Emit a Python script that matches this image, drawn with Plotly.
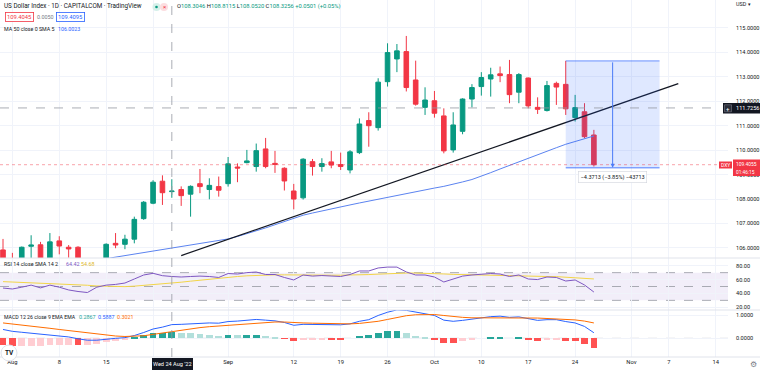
import numpy as np
import pandas as pd
import plotly.graph_objects as go
from plotly.subplots import make_subplots

# ---------------- DATA ----------------
dates = [d.strftime("%Y-%m-%d") for d in pd.bdate_range("2022-07-29", "2022-10-26")]

opens = [105.92, 105.55, 105.35, 106.07, 106.13, 105.50, 106.29, 106.03, 106.03, 105.20,
         105.05, 105.50, 106.19, 106.15, 106.36, 107.20, 107.83, 108.73, 108.3046, 108.39,
         108.20, 108.63, 108.39, 108.51, 108.63, 109.31, 109.49, 109.33, 110.05, 109.46,
         109.26, 108.33, 108.05, 109.53, 109.33, 109.52, 109.41, 109.19, 109.90, 111.21,
         110.92, 112.80, 113.73, 114.03, 112.87, 111.75, 112.02, 111.40, 110.01, 110.77,
         112.09, 112.60, 112.91, 113.12, 113.09, 112.37, 112.95, 111.75, 111.62, 112.73,
         112.69, 111.33, 111.57, 110.62]
highs = [106.37, 105.80, 106.06, 106.52, 106.25, 106.61, 106.48, 106.12, 106.07, 105.50,
         105.55, 106.19, 106.61, 106.54, 107.28, 107.92, 108.77, 108.97, 108.8115, 108.52,
         108.56, 109.23, 108.85, 108.92, 109.72, 109.46, 110.01, 110.27, 110.50, 109.97,
         109.30, 108.62, 109.67, 109.64, 109.67, 109.97, 109.90, 110.00, 111.30, 111.55,
         112.94, 114.37, 114.34, 114.67, 113.66, 112.57, 112.42, 111.71, 111.55, 112.12,
         112.70, 113.19, 113.37, 113.42, 113.69, 113.15, 112.97, 112.16, 112.83, 112.80,
         113.65, 112.26, 111.92, 110.83]
lows = [105.30, 105.05, 105.20, 105.55, 105.40, 105.35, 105.74, 105.60, 104.90, 104.65,
        104.85, 105.30, 105.99, 105.95, 106.19, 107.15, 107.79, 107.76, 108.0520, 107.72,
        107.28, 108.24, 107.99, 108.10, 108.51, 108.69, 109.46, 109.12, 109.26, 109.07,
        108.35, 107.58, 107.98, 108.96, 109.12, 109.26, 109.19, 109.05, 109.84, 110.14,
        110.80, 112.60, 113.19, 112.40, 111.82, 111.44, 111.33, 109.87, 109.90, 110.65,
        111.75, 112.23, 112.19, 112.78, 111.92, 111.92, 111.71, 111.48, 111.58, 111.85,
        111.44, 111.17, 110.49, 109.33]
closes = [105.45, 105.40, 106.03, 106.12, 105.50, 106.25, 106.08, 105.96, 105.20, 105.05,
          105.50, 106.15, 106.12, 106.36, 107.17, 107.87, 108.69, 108.26, 108.3256, 108.14,
          108.52, 108.51, 108.56, 108.36, 109.44, 109.27, 109.56, 109.98, 109.33, 109.42,
          108.74, 108.00, 109.63, 109.33, 109.45, 109.39, 109.33, 109.93, 111.07, 111.00,
          112.78, 113.99, 114.06, 112.56, 111.88, 112.05, 111.51, 109.97, 111.03, 112.09,
          112.56, 112.97, 113.08, 113.05, 112.27, 113.09, 111.81, 111.67, 112.64, 112.58,
          111.69, 111.74, 110.55, 109.4055]
ma50 = [104.95, 105.00, 105.05, 105.10, 105.15, 105.20, 105.26, 105.32, 105.38, 105.44,
        105.50, 105.56, 105.62, 105.68, 105.75, 105.82, 105.88, 105.94, 106.0023, 106.06,
        106.12, 106.18, 106.24, 106.30, 106.37, 106.47, 106.58, 106.70, 106.82, 106.95,
        107.08, 107.21, 107.34, 107.43, 107.52, 107.60, 107.68, 107.76, 107.84, 107.92,
        108.00, 108.08, 108.16, 108.24, 108.31, 108.38, 108.45, 108.52, 108.60, 108.70,
        108.80, 108.93, 109.08, 109.23, 109.38, 109.53, 109.68, 109.82, 109.96, 110.10,
        110.24, 110.36, 110.48, 110.58]
rsi = [47.8, 46.4, 49.0, 52.0, 48.0, 52.0, 49.0, 45.0, 42.8, 41.3,
       49.0, 52.0, 53.0, 55.0, 60.8, 66.6, 69.0, 65.6, 64.42, 63.7,
       64.4, 65.0, 64.4, 63.0, 68.7, 68.0, 70.0, 70.9, 67.3, 67.3,
       63.0, 59.4, 66.6, 65.0, 65.8, 65.0, 64.4, 67.3, 72.4, 72.4,
       76.7, 78.0, 78.0, 71.0, 66.6, 66.6, 63.7, 56.5, 60.8, 65.0,
       66.6, 68.0, 68.7, 68.0, 64.4, 66.6, 60.8, 60.0, 63.7, 63.0,
       57.9, 59.4, 52.2, 42.0]
rsi_ma = [57.0, 56.5, 56.0, 55.5, 55.0, 54.5, 54.0, 53.3, 52.6, 51.8,
          50.8, 50.2, 49.8, 49.8, 50.5, 51.5, 52.6, 53.6, 54.68, 56.2,
          57.7, 59.2, 60.6, 62.0, 63.3, 64.4, 65.4, 66.2, 66.6, 66.8,
          66.8, 66.5, 66.4, 66.4, 66.4, 66.3, 66.3, 66.4, 66.8, 67.2,
          67.8, 68.5, 69.2, 69.4, 69.4, 69.2, 68.8, 68.1, 67.5, 67.1,
          66.8, 66.5, 66.2, 66.0, 65.6, 65.4, 65.0, 64.6, 64.4, 64.2,
          63.6, 63.1, 62.2, 60.9]
macd = [0.38, 0.30, 0.26, 0.22, 0.16, 0.14, 0.10, 0.06, -0.02, -0.08,
        -0.08, -0.03, 0.00, 0.03, 0.12, 0.25, 0.40, 0.48, 0.5887, 0.60,
        0.63, 0.65, 0.66, 0.65, 0.72, 0.74, 0.77, 0.81, 0.78, 0.75,
        0.68, 0.56, 0.60, 0.60, 0.61, 0.60, 0.58, 0.62, 0.73, 0.80,
        0.98, 1.12, 1.22, 1.20, 1.13, 1.07, 0.98, 0.78, 0.73, 0.77,
        0.83, 0.88, 0.93, 0.95, 0.90, 0.92, 0.84, 0.77, 0.80, 0.80,
        0.72, 0.66, 0.51, 0.24]
signal = [0.66, 0.62, 0.58, 0.53, 0.47, 0.43, 0.38, 0.33, 0.28, 0.22,
          0.17, 0.13, 0.10, 0.08, 0.08, 0.11, 0.17, 0.23, 0.3021, 0.36,
          0.42, 0.46, 0.50, 0.53, 0.57, 0.60, 0.63, 0.67, 0.69, 0.70,
          0.70, 0.67, 0.66, 0.65, 0.64, 0.63, 0.62, 0.62, 0.64, 0.67,
          0.73, 0.81, 0.90, 0.97, 1.01, 1.03, 1.02, 0.98, 0.93, 0.90,
          0.88, 0.88, 0.89, 0.90, 0.90, 0.90, 0.89, 0.87, 0.85, 0.84,
          0.82, 0.79, 0.74, 0.66]

tick_dates = ["2022-08-01", "2022-08-08", "2022-08-15", "2022-08-22", "2022-09-01", "2022-09-12",
              "2022-09-19", "2022-09-26", "2022-10-03", "2022-10-10", "2022-10-17", "2022-10-24",
              "2022-11-01", "2022-11-07", "2022-11-14"]
# the "22" tick sits under the crosshair date label, so its text is hidden
tick_text = ["Aug", "8", "15", "", "Sep", "12", "19", "26", "Oct", "10", "17", "24", "Nov", "7", "14"]

price_ticks = [106, 107, 108, 109, 110, 111, 112, 113, 114, 115]
rsi_ticks = [20, 40, 60, 80]
macd_ticks = [0, 1]

trend_dates = ["2022-08-25", "2022-11-08"]
trend_prices = [105.69, 112.72]

measure_dates = ["2022-10-21", "2022-11-04"]
measure_mid_date = "2022-10-28"
measure_top = 113.65
measure_bottom = 109.2787
measure_text = "\u22124.3713 (\u22123.85%) \u221243713"

cross_date = "2022-08-24"
cross_price = 111.7256
last_price = 109.4055

# ---------------- helpers ----------------
calendar = [d.strftime("%Y-%m-%d") for d in pd.bdate_range("2022-07-29", "2022-12-30")]
pos = {d: i for i, d in enumerate(calendar)}
x = [pos[d] for d in dates]
tick_x = [pos[d] for d in tick_dates]

W, H = 760, 370
ML, MR, MT, MB = 0, 32, 0, 13
PW, PH = W - ML - MR, H - MT - MB


def px(v):
    return (v - ML) / PW


def py(v):
    return 1 - (v - MT) / PH


GREEN = "#089981"
RED = "#F23645"
TXT = "#131722"
FONT = "Roboto"
GRID = "#F0F3FA"

fig = make_subplots(rows=3, cols=1, shared_xaxes=True, vertical_spacing=0)

fig.add_trace(go.Candlestick(
    x=x, open=opens, high=highs, low=lows, close=closes,
    increasing=dict(line=dict(color=GREEN, width=1), fillcolor=GREEN),
    decreasing=dict(line=dict(color=RED, width=1), fillcolor=RED),
    whiskerwidth=0, hoverinfo="skip"), row=1, col=1)

fig.add_trace(go.Scatter(x=x, y=ma50, mode="lines", line=dict(color="#5B83F0", width=1),
                         hoverinfo="skip"), row=1, col=1)

fig.add_trace(go.Scatter(x=[pos[d] for d in trend_dates], y=trend_prices, mode="lines",
                         line=dict(color="#131722", width=1.3), hoverinfo="skip"), row=1, col=1)

# RSI
fig.add_trace(go.Scatter(x=x, y=rsi_ma, mode="lines", line=dict(color="#F2D548", width=1),
                         hoverinfo="skip"), row=2, col=1)
fig.add_trace(go.Scatter(x=x, y=rsi, mode="lines", line=dict(color="#7E57C2", width=1),
                         hoverinfo="skip"), row=2, col=1)

# MACD
hist = np.array(macd) - np.array(signal)
hcolors = []
for i, h in enumerate(hist):
    prev = hist[i - 1] if i > 0 else h + (0.01 if h < 0 else -0.01)
    if h >= 0:
        hcolors.append("#26A69A" if h >= prev else "#B2DFDB")
    else:
        hcolors.append("#FF5252" if h <= prev else "#FFCDD2")
fig.add_trace(go.Bar(x=x, y=hist, marker=dict(color=hcolors, line=dict(width=0)), width=0.72,
                     hoverinfo="skip"), row=3, col=1)
fig.add_trace(go.Scatter(x=x, y=macd, mode="lines", line=dict(color="#2962FF", width=1),
                         hoverinfo="skip"), row=3, col=1)
fig.add_trace(go.Scatter(x=x, y=signal, mode="lines", line=dict(color="#FF6D00", width=1),
                         hoverinfo="skip"), row=3, col=1)

xrange = [-0.32, 77.3]
for r in (1, 2, 3):
    fig.update_xaxes(row=r, col=1, range=xrange, tickmode="array", tickvals=tick_x,
                     ticktext=tick_text, showgrid=True, gridcolor=GRID, gridwidth=1,
                     zeroline=False, showline=False, ticks="",
                     showticklabels=(r == 3), tickfont=dict(size=5.8, color=TXT, family=FONT))
fig.update_layout(xaxis_rangeslider_visible=False)

fig.update_yaxes(row=1, col=1, range=[105.59, 116.14], side="right", tickmode="array",
                 tickvals=price_ticks, ticktext=["%.4f" % v for v in price_ticks],
                 showgrid=True, gridcolor=GRID, zeroline=False, ticks="", ticklabelstandoff=7,
                 tickfont=dict(size=5.6, color=TXT, family=FONT), domain=[py(258), 1])
fig.update_yaxes(row=2, col=1, range=[16.1, 91.1], side="right", tickmode="array",
                 tickvals=rsi_ticks, ticktext=["%.2f" % v for v in rsi_ticks],
                 showgrid=True, gridcolor=GRID, zeroline=False, ticks="", ticklabelstandoff=7,
                 tickfont=dict(size=5.6, color=TXT, family=FONT), domain=[py(310), py(258)])
fig.update_yaxes(row=3, col=1, range=[-0.80, 1.215], side="right", tickmode="array",
                 tickvals=macd_ticks, ticktext=["%.4f" % v for v in macd_ticks],
                 showgrid=True, gridcolor=GRID, zeroline=False, ticks="", ticklabelstandoff=7,
                 tickfont=dict(size=5.6, color=TXT, family=FONT), domain=[0, py(310)])

shapes = []
# RSI band
shapes.append(dict(type="rect", xref="x2", yref="y2", x0=xrange[0], x1=xrange[1], y0=30, y1=70,
                   fillcolor="rgba(126,87,194,0.10)", line=dict(width=0), layer="below"))
for lvl in (70, 50, 30):
    shapes.append(dict(type="line", xref="x2", yref="y2", x0=xrange[0], x1=xrange[1], y0=lvl, y1=lvl,
                       line=dict(color="#9598A1", width=0.8, dash="dash"), layer="below"))
# MACD zero
shapes.append(dict(type="line", xref="x3", yref="y3", x0=xrange[0], x1=xrange[1], y0=0, y1=0,
                   line=dict(color="#B2B5BE", width=0.8, dash="dash"), layer="below"))
# pane separators
for yy in (258, 310, 357):
    shapes.append(dict(type="line", xref="paper", yref="paper", x0=0, x1=W / PW, y0=py(yy), y1=py(yy),
                       line=dict(color="#E0E3EB", width=1)))
# measurement box
mx0, mx1, mxm = pos[measure_dates[0]], pos[measure_dates[1]], pos[measure_mid_date]
shapes.append(dict(type="rect", xref="x", yref="y", x0=mx0, x1=mx1, y0=measure_bottom, y1=measure_top,
                   fillcolor="rgba(41,98,255,0.15)", line=dict(width=0)))
for yv in (measure_top, measure_bottom):
    shapes.append(dict(type="line", xref="x", yref="y", x0=mx0, x1=mx1, y0=yv, y1=yv,
                       line=dict(color="rgba(41,98,255,0.55)", width=1.4)))
# current price line
shapes.append(dict(type="line", xref="paper", yref="y", x0=0, x1=719 / PW, y0=last_price, y1=last_price,
                   line=dict(color="rgba(242,54,69,0.45)", width=1, dash="dot")))
# crosshair
cx = pos[cross_date]
shapes.append(dict(type="line", xref="x", yref="paper", x0=cx, x1=cx, y0=0, y1=1,
                   line=dict(color="#9598A1", width=0.8, dash="dash")))
shapes.append(dict(type="line", xref="paper", yref="y", x0=0, x1=720 / PW, y0=cross_price, y1=cross_price,
                   line=dict(color="#9598A1", width=0.8, dash="dash")))
# price axis labels (crosshair + last)
shapes.append(dict(type="rect", xref="paper", yref="paper", x0=px(723), x1=px(760), y0=py(113.5), y1=py(103),
                   fillcolor="#131722", line=dict(width=0)))
shapes.append(dict(type="rect", xref="paper", yref="paper", x0=px(724.5), x1=px(731.5), y0=py(111.8), y1=py(104.8),
                   fillcolor="#2A2E39", line=dict(color="#787B86", width=0.6)))
shapes.append(dict(type="rect", xref="paper", yref="paper", x0=px(719), x1=px(732), y0=py(168.5), y1=py(161.5),
                   fillcolor=RED, line=dict(width=0)))
shapes.append(dict(type="rect", xref="paper", yref="paper", x0=px(733), x1=px(760), y0=py(176), y1=py(159.5),
                   fillcolor=RED, line=dict(width=0)))
# date label box
shapes.append(dict(type="rect", xref="paper", yref="paper", x0=px(152), x1=px(193), y0=py(370), y1=py(358),
                   fillcolor="#131722", line=dict(width=0)))
# header status circles
shapes.append(dict(type="circle", xref="paper", yref="paper", x0=px(152.5), x1=px(160.5), y0=py(11), y1=py(3),
                   fillcolor="#D6F0EA", line=dict(width=0)))
shapes.append(dict(type="circle", xref="paper", yref="paper", x0=px(155.2), x1=px(157.8), y0=py(8.3), y1=py(5.7),
                   fillcolor=GREEN, line=dict(width=0)))
shapes.append(dict(type="circle", xref="paper", yref="paper", x0=px(160), x1=px(168), y0=py(11), y1=py(3),
                   fillcolor="#FCDDE0", line=dict(width=0)))
# TV logo circle
shapes.append(dict(type="circle", xref="paper", yref="paper", x0=px(1), x1=px(17), y0=py(361), y1=py(345),
                   fillcolor="white", line=dict(color="#E0E3EB", width=1)))

fig.update_layout(shapes=shapes)

anns = []


def ann(xp, yp, text, color=TXT, size=5.8, xanchor="left", **kw):
    d = dict(xref="paper", yref="paper", x=px(xp), y=py(yp), text=text, showarrow=False,
             xanchor=xanchor, yanchor="middle", font=dict(size=size, color=color, family=FONT))
    d.update(kw)
    anns.append(d)


ann(2, 6, "US Dollar Index \u00b7 1D \u00b7 CAPITALCOM \u00b7 TradingView", size=6.3)
ann(164, 6.6, "\u00d7", color=RED, size=6, xanchor="center")
g = lambda s: "<span style='color:%s'>%s</span>" % (GREEN, s)
ann(175, 6, "O" + g("108.3046") + " H" + g("108.8115") + " L" + g("108.0520") + " C" + g("108.3256")
    + " " + g("+0.0501 (+0.05%)"), size=5.8)
ann(5, 17, "109.4045", color=RED, size=5.8, bordercolor=RED, borderwidth=0.8, borderpad=1.2, bgcolor="white")
ann(35, 17, "0.0050", color="#787B86", size=5.4)
ann(56, 17, "109.4095", color="#2962FF", size=5.8, bordercolor="#2962FF", borderwidth=0.8, borderpad=1.2,
    bgcolor="white")
ann(2, 29, "MA 50 close 0 SMA 5", size=5.3)
ann(56, 29, "106.0023", color="#2962FF", size=5.3)
ann(2, 263.5, "RSI 14 close SMA 14 2", size=5.4)
ann(64, 263.5, "64.42", color="#7E57C2", size=5.4)
ann(79, 263.5, "54.68", color="#E0B92C", size=5.4)
ann(2, 316.5, "MACD 12 26 close 9 EMA EMA", size=5.2)
ann(77, 316.5, "0.2867", color="#26A69A", size=5.4)
ann(96, 316.5, "0.5887", color="#2962FF", size=5.4)
ann(115, 316.5, "0.3021", color="#FF6D00", size=5.4)
ann(734, 4.5, "USD \u25be", size=5.4)
ann(728.0, 108.3, "+", color="white", size=6, xanchor="center")
ann(733.5, 108.3, "111.7256", color="white", size=5.6)
ann(725.5, 165, "DXY", color="white", size=5, xanchor="center")
ann(735, 163.6, "%.4f" % last_price, color="white", size=4.9, borderpad=0)
ann(735, 172.0, "01:46:15", color="white", size=4.8, borderpad=0)
ann(172.5, 364.2, "Wed 24 Aug '22", color="white", size=5.6, xanchor="center")
ann(9, 353, "<b>TV</b>", color=TXT, size=6.5, xanchor="center")
ann(753, 364, "\u2699", color="#787B86", size=8, xanchor="center")

# measurement arrow + label
anns.append(dict(xref="x", yref="y", x=mxm, y=measure_bottom, ax=mxm, ay=measure_top, axref="x", ayref="y",
                 text="", showarrow=True, arrowhead=2, arrowsize=0.8, arrowwidth=1, arrowcolor="#4A7BF7"))
anns.append(dict(xref="x", yref="paper", x=mxm, y=py(177), text=measure_text, showarrow=False,
                 xanchor="center", yanchor="middle", font=dict(size=5.6, color=TXT, family=FONT),
                 bgcolor="white", bordercolor="#D1D4DC", borderwidth=0.6, borderpad=2))

fig.update_layout(annotations=anns, width=W, height=H,
                  margin=dict(l=ML, r=MR, t=MT, b=MB),
                  paper_bgcolor="white", plot_bgcolor="white", showlegend=False,
                  bargap=0, font=dict(family=FONT, color=TXT))

fig.write_html("out.html", config={"displayModeBar": False},
               post_script="document.body.style.margin='0';document.body.style.padding='0';"
                           "document.body.style.overflow='hidden';")
